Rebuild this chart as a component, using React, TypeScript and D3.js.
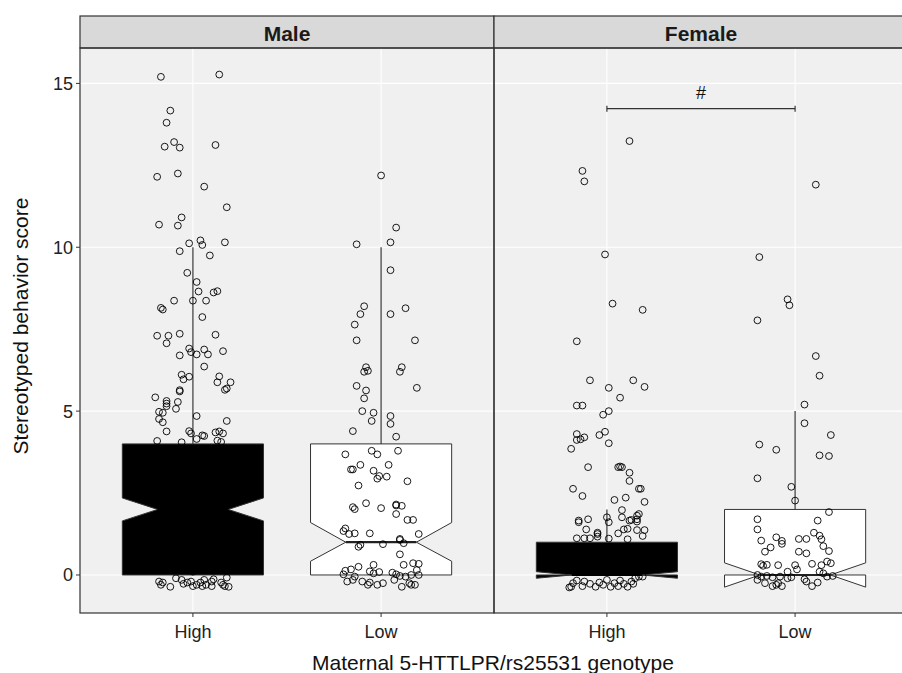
import * as d3 from "d3";

const FONT = "'Liberation Sans', Arial, Helvetica, sans-serif";

const sexes = ["Male", "Female"];
const genotypes = ["High", "Low"];
const yTicks = [0, 5, 10, 15];

// box statistics, order: Male-High, Male-Low, Female-High, Female-Low
const boxQ1 = [0, 0, 0, 0];
const boxMedian = [2, 1, 0, 0];
const boxQ3 = [4, 4, 1, 2];
const whiskerHigh = [10, 10, 2, 5];
const notchLow = [1.65, 0.42, -0.1, -0.37];
const notchHigh = [2.35, 1.6, 0.1, 0.37];
const boxFill = ["#000000", "#ffffff", "#000000", "#ffffff"];

// jittered observations: [horizontal jitter in category units, score]
const maleHigh = [
  [-0.17, 15.2], [0.14, 15.27], [-0.12, 14.17], [-0.14, 13.8], [-0.1, 13.21], [-0.15, 13.07], [-0.07, 13.04],
  [0.12, 13.12], [-0.19, 12.15], [-0.08, 12.25], [0.06, 11.85], [0.18, 11.22], [-0.06, 10.91], [-0.18, 10.69],
  [-0.08, 10.66], [-0.02, 10.12], [0.04, 10.21], [0.05, 10.07], [0.17, 10.15], [-0.07, 9.88], [0.09, 9.75],
  [-0.03, 9.22], [0.02, 8.94], [0.03, 8.65], [0.11, 8.62], [0.13, 8.66], [-0.1, 8.37], [0.0, 8.37], [0.07, 8.37],
  [-0.17, 8.15], [-0.16, 8.1], [0.05, 7.87], [-0.19, 7.3], [-0.13, 7.3], [-0.14, 7.07], [-0.07, 7.36], [0.12, 7.33],
  [-0.02, 6.91], [-0.01, 6.8], [0.02, 6.73], [0.06, 6.88], [0.08, 6.73], [0.16, 6.83], [-0.07, 6.7], [0.06, 6.36],
  [-0.06, 6.11], [-0.05, 5.97], [-0.02, 6.05], [0.14, 6.06], [0.13, 5.88], [0.2, 5.88], [0.17, 5.65], [0.18, 5.69],
  [-0.07, 5.64], [-0.07, 5.6], [-0.2, 5.42], [-0.14, 5.31], [-0.14, 5.23], [-0.08, 5.28], [-0.14, 5.15],
  [-0.18, 4.98], [-0.16, 4.95], [-0.09, 5.07], [-0.18, 4.76], [-0.16, 4.66], [0.02, 4.85], [0.18, 4.7],
  [-0.14, 4.38], [-0.02, 4.39], [-0.01, 4.32], [0.05, 4.26], [0.06, 4.24], [0.12, 4.35], [0.14, 4.38],
  [0.16, 4.32], [-0.19, 4.09], [-0.06, 4.05], [0.02, 4.15], [0.13, 4.1], [0.15, 4.06],
  [-0.1, 3.0], [0.05, 2.0], [0.1, 1.0], [-0.15, 0.3], [0.0, 0.1],
  [-0.18, -0.2], [-0.17, -0.3], [-0.16, -0.23], [-0.12, -0.36], [-0.09, -0.1], [-0.06, -0.15], [-0.05, -0.27],
  [-0.03, -0.23], [-0.01, -0.2], [0.0, -0.34], [0.02, -0.3], [0.04, -0.23], [0.05, -0.34], [0.06, -0.15],
  [0.07, -0.3], [0.1, -0.2], [0.1, -0.34], [0.11, -0.13], [0.15, -0.23], [0.16, -0.3], [0.17, -0.34],
  [0.18, -0.08], [0.19, -0.36],
];

const maleLow = [
  [0.0, 12.19], [0.08, 10.6], [-0.13, 10.09], [0.05, 10.15], [0.05, 9.3], [-0.09, 8.2], [-0.11, 7.96], [0.05, 7.96],
  [0.13, 8.14], [-0.14, 7.64], [-0.13, 7.16], [0.18, 7.16], [-0.08, 6.34], [-0.09, 6.2], [-0.07, 6.23],
  [0.11, 6.34], [0.1, 6.2], [-0.13, 5.77], [-0.08, 5.63], [-0.09, 5.39], [0.19, 5.71], [-0.1, 5.0], [-0.04, 4.95],
  [-0.05, 4.7], [0.05, 4.85], [0.05, 4.61], [-0.15, 4.39], [0.08, 4.22],
  [-0.19, 3.68], [-0.05, 3.79], [-0.02, 3.68], [0.09, 3.79], [-0.11, 3.36], [-0.16, 3.22], [-0.15, 3.22],
  [0.04, 3.36], [-0.04, 3.18], [-0.01, 3.02], [-0.02, 2.94], [0.03, 3.0], [0.14, 2.86], [-0.12, 2.73],
  [-0.15, 2.07], [-0.14, 2.01], [-0.08, 2.19], [0.0, 2.04], [0.08, 2.12], [0.08, 2.15], [0.11, 2.11],
  [0.08, 1.86], [0.14, 1.68], [0.17, 1.68], [-0.19, 1.42], [-0.2, 1.34], [-0.17, 1.25], [-0.14, 1.27],
  [-0.06, 1.27], [0.2, 1.25], [0.1, 1.1], [0.1, 1.07], [0.12, 0.97], [-0.11, 0.92], [-0.12, 0.86], [0.01, 0.94],
  [0.1, 0.63], [-0.12, 0.25], [-0.04, 0.31], [0.12, 0.31], [0.17, 0.36], [0.2, 0.34], [-0.16, 0.17],
  [-0.19, 0.13], [-0.2, 0.02], [-0.06, 0.11], [-0.04, 0.05], [-0.01, 0.09], [0.06, 0.07], [0.08, 0.02],
  [0.1, -0.03], [0.13, -0.05], [0.16, 0], [0.19, 0.15], [0.2, 0], [-0.14, -0.05], [-0.15, -0.15], [-0.18, -0.2],
  [-0.1, -0.2], [-0.07, -0.3], [-0.06, -0.23], [-0.02, -0.3], [0.01, -0.25], [0.07, -0.15], [0.11, -0.36],
  [0.15, -0.25], [0.16, -0.3], [0.18, -0.3],
];

const femaleHigh = [
  [0.12, 13.24], [-0.13, 12.33], [-0.12, 12.01], [-0.01, 9.78], [0.03, 8.28], [0.19, 8.09], [-0.16, 7.13],
  [-0.09, 5.94], [0.14, 5.94], [0.01, 5.71], [0.2, 5.74], [0.07, 5.41], [-0.16, 5.17], [-0.13, 5.17],
  [-0.02, 4.89], [0.01, 5.0], [-0.16, 4.3], [-0.16, 4.12], [-0.14, 4.14], [-0.12, 4.2], [-0.19, 3.85],
  [-0.04, 4.27], [-0.01, 4.37], [0.01, 4.02], [-0.1, 3.29], [0.06, 3.29], [0.07, 3.31], [0.08, 3.29],
  [0.12, 3.12], [0.12, 2.87], [-0.18, 2.63], [-0.13, 2.41], [0.17, 2.63], [0.18, 2.63], [0.04, 2.29],
  [0.1, 2.36], [0.2, 2.23], [0.08, 1.98], [-0.15, 1.61], [-0.15, 1.66], [-0.1, 1.7], [0.0, 1.76], [0.01, 1.61],
  [0.08, 1.76], [0.12, 1.66], [0.13, 1.68], [0.16, 1.81], [0.17, 1.86], [0.16, 1.63], [0.16, 1.7],
  [-0.11, 1.39], [-0.05, 1.29], [-0.05, 1.25], [0.06, 1.27], [0.09, 1.39], [0.11, 1.41], [0.16, 1.37],
  [0.2, 1.37], [0.11, 1.09], [0.19, 1.19], [-0.16, 1.12], [-0.12, 1.12], [-0.09, 1.12], [-0.05, 1.17],
  [0.01, 1.11], [-0.1, 0.6], [0.05, 0.3],
  [-0.19, -0.36], [-0.18, -0.25], [-0.16, -0.17], [-0.13, -0.34], [-0.12, -0.2], [-0.09, -0.27], [-0.06, -0.36],
  [-0.04, -0.23], [-0.02, -0.3], [0.0, -0.15], [0.02, -0.36], [0.04, -0.25], [0.06, -0.34], [0.07, -0.17],
  [0.09, -0.27], [0.11, -0.36], [0.13, -0.2], [0.15, -0.1], [0.17, -0.05], [0.19, -0.05], [0.14, -0.27],
  [-0.2, -0.38],
];

const femaleLow = [
  [0.11, 11.91], [-0.19, 9.7], [-0.04, 8.41], [-0.03, 8.23], [-0.2, 7.77], [0.11, 6.68], [0.13, 6.08],
  [0.05, 5.2], [0.05, 4.63], [0.19, 4.27], [-0.19, 3.98], [-0.1, 3.82], [0.13, 3.65], [0.18, 3.63],
  [-0.2, 2.95], [-0.02, 2.69], [0.0, 2.27], [0.18, 1.92], [-0.2, 1.7], [0.12, 1.66], [-0.2, 1.39],
  [-0.18, 1.05], [-0.1, 1.15], [-0.07, 1.04], [-0.07, 0.95], [0.02, 1.1], [0.06, 1.1], [0.1, 1.29],
  [0.13, 1.2], [0.14, 1.09], [0.15, 0.88], [0.18, 0.73], [-0.13, 0.84], [-0.16, 0.71], [0.02, 0.71],
  [0.06, 0.66], [-0.18, 0.33], [-0.17, 0.28], [-0.15, 0.31], [-0.09, 0.3], [0.0, 0.3], [0.09, 0.34],
  [0.14, 0.3], [0.17, 0.41], [0.19, 0.36], [-0.2, 0], [-0.18, -0.05], [-0.15, -0.03], [-0.12, -0.07],
  [-0.08, -0.05], [-0.04, 0.1], [-0.02, -0.07], [0.01, 0.17], [0.13, 0.1], [0.15, 0.05], [0.17, -0.05],
  [0.2, -0.03], [-0.2, -0.15], [-0.16, -0.25], [-0.12, -0.34], [-0.1, -0.3], [-0.09, -0.25], [-0.07, -0.34],
  [-0.04, -0.1], [0.05, -0.13], [0.06, -0.2], [0.09, -0.34], [0.12, -0.23],
];

const groupPoints = [maleHigh, maleLow, femaleHigh, femaleLow];

const bracketSex = "Female";
const bracketY = 14.23;
const bracketLabel = "#";

const W = 902;
const H = 673;
const panelTop = 48;
const panelBottom = 613;
const stripTop = 16;
const panelLeft = 80;
const panelWidth = 414;

export default function App() {
  const y = d3.scaleLinear().domain([-1.16, 16.08]).range([panelBottom, panelTop]);
  const xFor = (i: number) =>
    d3.scalePoint<string>().domain(genotypes)
      .range([panelLeft + i * panelWidth, panelLeft + (i + 1) * panelWidth])
      .padding(0.6);

  // notched box outline, traced the same way ggplot does it
  const boxPath = (g: number, x: d3.ScalePoint<string>, cat: string) => {
    const step = x.step();
    const cx = x(cat) as number;
    const xmin = cx - 0.375 * step;
    const xmax = cx + 0.375 * step;
    const ind = (xmax - xmin) * 0.25;
    const pts: [number, number][] = [
      [xmin, y(boxQ3[g])], [xmin, y(notchHigh[g])], [xmin + ind, y(boxMedian[g])], [xmin, y(notchLow[g])],
      [xmin, y(boxQ1[g])], [xmax, y(boxQ1[g])], [xmax, y(notchLow[g])], [xmax - ind, y(boxMedian[g])],
      [xmax, y(notchHigh[g])], [xmax, y(boxQ3[g])], [xmin, y(boxQ3[g])],
    ];
    return { d: d3.line()(pts) as string, cx, xmin, xmax, ind };
  };

  return (
    <svg width={W} height={H} style={{ position: "absolute", left: 0, top: 0, background: "#fff" }}
      fontFamily={FONT}>
      <defs>
        <clipPath id="plotClip"><rect x={panelLeft} y={panelTop} width={panelWidth * 2} height={panelBottom - panelTop} /></clipPath>
      </defs>
      {sexes.map((sex, i) => {
        const x = xFor(i);
        const left = panelLeft + i * panelWidth;
        return (
          <g key={sex}>
            <rect x={left} y={panelTop} width={panelWidth} height={panelBottom - panelTop} fill="#f0f0f0" />
            {yTicks.map((t) => (
              <line key={t} x1={left} x2={left + panelWidth} y1={y(t)} y2={y(t)} stroke="#fff" strokeWidth={1.1} />
            ))}
            {genotypes.map((gname) => (
              <line key={gname} x1={x(gname)} x2={x(gname)} y1={panelTop} y2={panelBottom} stroke="#fff" strokeWidth={1.1} />
            ))}
            <rect x={left} y={stripTop} width={panelWidth} height={panelTop - stripTop} fill="#d9d9d9" stroke="#333" strokeWidth={1.2} />
            <text x={left + panelWidth / 2} y={40.5} textAnchor="middle" fontSize={21}
              fontWeight="bold" fill="#1a1a1a">{sex}</text>
            {genotypes.map((gname) => (
              <g key={gname}>
                <line x1={x(gname)} x2={x(gname)} y1={panelBottom} y2={panelBottom + 4} stroke="#333" strokeWidth={1} />
                <text x={x(gname)} y={638} textAnchor="middle" fontSize={18} fill="#222">{gname}</text>
              </g>
            ))}
          </g>
        );
      })}
      <g clipPath="url(#plotClip)">
        {sexes.map((sex, i) => {
          const x = xFor(i);
          return genotypes.map((gname, j) => {
            const g = i * 2 + j;
            const b = boxPath(g, x, gname);
            return (
              <g key={sex + gname}>
                <line x1={b.cx} x2={b.cx} y1={y(boxQ3[g])} y2={y(whiskerHigh[g])} stroke="#444" strokeWidth={1.3} />
                <path d={b.d} fill={boxFill[g]} stroke="#333" strokeWidth={1} />
                <line x1={b.xmin + b.ind} x2={b.xmax - b.ind} y1={y(boxMedian[g])} y2={y(boxMedian[g])}
                  stroke={boxFill[g] === "#000000" ? "#000" : "#222"} strokeWidth={2.2} />
              </g>
            );
          });
        })}
        {sexes.map((sex, i) => {
          const x = xFor(i);
          return genotypes.map((gname, j) => {
            const g = i * 2 + j;
            const cx = x(gname) as number;
            return groupPoints[g].map((p, k) => (
              <circle key={sex + gname + k} cx={cx + p[0] * x.step()} cy={y(p[1])} r={3.4} fill="none"
                stroke="#000" strokeWidth={0.9} />
            ));
          });
        })}
        {(() => {
          const x = xFor(sexes.indexOf(bracketSex));
          const x1 = x("High") as number;
          const x2 = x("Low") as number;
          const yb = y(bracketY);
          return (
            <g>
              <line x1={x1} x2={x2} y1={yb} y2={yb} stroke="#333" strokeWidth={1.2} />
              <line x1={x1} x2={x1} y1={yb - 3} y2={yb + 3} stroke="#333" strokeWidth={1.2} />
              <line x1={x2} x2={x2} y1={yb - 3} y2={yb + 3} stroke="#333" strokeWidth={1.2} />
              <text x={(x1 + x2) / 2} y={yb - 10} textAnchor="middle" fontSize={18} fill="#111">{bracketLabel}</text>
            </g>
          );
        })()}
      </g>
      {sexes.map((sex, i) => {
        const left = panelLeft + i * panelWidth;
        return (
          <rect key={sex} x={left} y={panelTop} width={panelWidth} height={panelBottom - panelTop} fill="none"
            stroke="#333" strokeWidth={1.2} />
        );
      })}
      {yTicks.map((t) => (
        <g key={t}>
          <line x1={panelLeft - 4} x2={panelLeft} y1={y(t)} y2={y(t)} stroke="#333" strokeWidth={1} />
          <text x={panelLeft - 7} y={y(t) + 6.5} textAnchor="end" fontSize={18} fill="#222">{t}</text>
        </g>
      ))}
      <text transform={`translate(28,${326}) rotate(-90)`} textAnchor="middle" fontSize={21} fill="#111">
        Stereotyped behavior score
      </text>
      <text x={493} y={670} textAnchor="middle" fontSize={21} fill="#111">
        Maternal 5-HTTLPR/rs25531 genotype
      </text>
    </svg>
  );
}
